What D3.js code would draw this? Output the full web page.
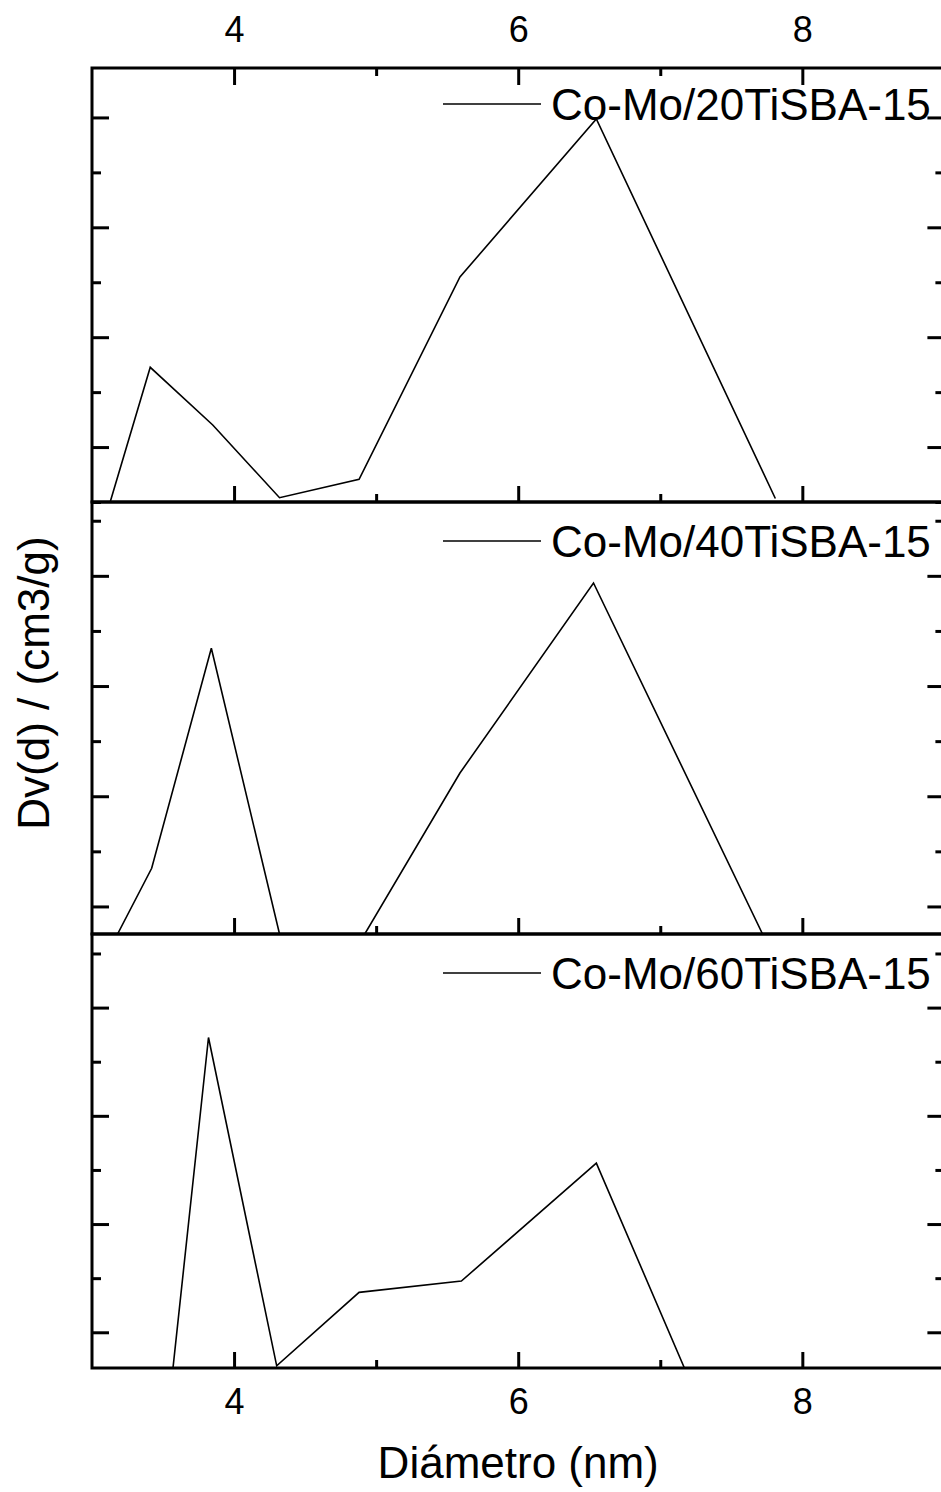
<!DOCTYPE html>
<html>
<head>
<meta charset="utf-8">
<script src="https://cdn.jsdelivr.net/npm/d3@7"></script>
<style>
  html, body { margin: 0; padding: 0; background: #fff; }
  svg { display: block; }
  text { font-family: "Liberation Sans", Arial, sans-serif; fill: #000; }
</style>
</head>
<body>
<svg id="chart" width="941" height="1492"></svg>
<script>
// Pore diameter (nm) and Dv(d) for each support
const diam20 = [3.13, 3.41, 3.85, 4.32, 4.88, 5.59, 6.55, 7.81];
const dv20   = [0.0001, 0.01226, 0.00701, 0.00039, 0.00207, 0.02048, 0.03486, 0.00032];

const diam40 = [3.18, 3.42, 3.84, 4.32, 4.92, 5.59, 6.53, 7.72];
const dv40   = [0, 0.00596, 0.02593, 0, 0, 0.01461, 0.03185, 0];

const diam60 = [3.57, 3.82, 4.30, 4.88, 5.60, 6.55, 7.17];
const dv60   = [0, 0.03054, 0.0002, 0.00699, 0.00803, 0.01893, 0];

const seriesNames = ["Co-Mo/20TiSBA-15", "Co-Mo/40TiSBA-15", "Co-Mo/60TiSBA-15"];

// Axis ticks
const xMajor = [4, 6, 8];
const xMinor = [5, 7];
const yMajor20 = [0.005, 0.015, 0.025, 0.035];
const yMinor20 = [0, 0.01, 0.02, 0.03];
const yMajor40 = [0.0025, 0.0125, 0.0225, 0.0325];
const yMinor40 = [0.0075, 0.0175, 0.0275, 0.0375];
const yMajor60 = [0.0033, 0.0133, 0.0233, 0.0333];
const yMinor60 = [0.0083, 0.0183, 0.0283, 0.0383];

const xDomain = [3, 9];
const yDomain20 = [0, 0.0395];
const yDomain40 = [0, 0.0392];
const yDomain60 = [0, 0.0401];

const svg = d3.select("#chart");
const left = 92, right = 944.4;
const x = d3.scaleLinear().domain(xDomain).range([left, right]);

const panels = [
  { top: 68,  bottom: 502,  diam: diam20, dv: dv20, dom: yDomain20, major: yMajor20, minor: yMinor20, name: seriesNames[0] },
  { top: 502, bottom: 934,  diam: diam40, dv: dv40, dom: yDomain40, major: yMajor40, minor: yMinor40, name: seriesNames[1] },
  { top: 934, bottom: 1368, diam: diam60, dv: dv60, dom: yDomain60, major: yMajor60, minor: yMinor60, name: seriesNames[2] }
];

const majorLen = 17, minorLen = 9;

function styleAxis(g) {
  g.select(".domain").remove();
  g.selectAll(".tick line").attr("stroke", "#000").attr("stroke-width", 3);
  g.selectAll(".tick text").attr("font-size", 36).attr("font-family", "Liberation Sans, Arial, sans-serif");
}

panels.forEach((p, i) => {
  const y = d3.scaleLinear().domain(p.dom).range([p.bottom, p.top]);

  const clipId = "clip" + i;
  svg.append("clipPath").attr("id", clipId)
    .append("rect")
    .attr("x", left).attr("y", p.top)
    .attr("width", right - left).attr("height", p.bottom - p.top);

  // data line
  const pts = p.diam.map((d, k) => [d, p.dv[k]]);
  svg.append("path")
    .datum(pts)
    .attr("clip-path", `url(#${clipId})`)
    .attr("fill", "none")
    .attr("stroke", "#000")
    .attr("stroke-width", 1.6)
    .attr("stroke-linejoin", "miter")
    .attr("d", d3.line().x(d => x(d[0])).y(d => y(d[1])));

  // left ticks (inward)
  svg.append("g").attr("transform", `translate(${left},0)`)
    .call(d3.axisLeft(y).tickValues(p.major).tickSizeInner(-majorLen).tickSizeOuter(0).tickFormat(""))
    .call(styleAxis);
  svg.append("g").attr("transform", `translate(${left},0)`)
    .call(d3.axisLeft(y).tickValues(p.minor).tickSizeInner(-minorLen).tickSizeOuter(0).tickFormat(""))
    .call(styleAxis);
  // right ticks (inward)
  svg.append("g").attr("transform", `translate(${right},0)`)
    .call(d3.axisRight(y).tickValues(p.major).tickSizeInner(-majorLen).tickSizeOuter(0).tickFormat(""))
    .call(styleAxis);
  svg.append("g").attr("transform", `translate(${right},0)`)
    .call(d3.axisRight(y).tickValues(p.minor).tickSizeInner(-minorLen).tickSizeOuter(0).tickFormat(""))
    .call(styleAxis);

  // bottom ticks of each panel (inward, upward)
  const isLast = i === panels.length - 1;
  svg.append("g").attr("transform", `translate(0,${p.bottom})`)
    .call(d3.axisBottom(x).tickValues(xMajor).tickSizeInner(-16).tickSizeOuter(0)
      .tickPadding(20).tickFormat(isLast ? d3.format("d") : ""))
    .call(styleAxis);
  svg.append("g").attr("transform", `translate(0,${p.bottom})`)
    .call(d3.axisBottom(x).tickValues(xMinor).tickSizeInner(-8).tickSizeOuter(0).tickFormat(""))
    .call(styleAxis);

  // top axis with labels on the first panel
  if (i === 0) {
    svg.append("g").attr("transform", `translate(0,${p.top})`)
      .call(d3.axisTop(x).tickValues(xMajor).tickSizeInner(-17).tickSizeOuter(0)
        .tickPadding(26).tickFormat(d3.format("d")))
      .call(styleAxis);
    svg.append("g").attr("transform", `translate(0,${p.top})`)
      .call(d3.axisTop(x).tickValues(xMinor).tickSizeInner(-8).tickSizeOuter(0).tickFormat(""))
      .call(styleAxis);
  }

  // frame
  svg.append("rect")
    .attr("x", left).attr("y", p.top)
    .attr("width", right - left).attr("height", p.bottom - p.top)
    .attr("fill", "none").attr("stroke", "#000").attr("stroke-width", 3);

  // legend
  const ly = p.top + 36 + (i === 0 ? 0 : 3);
  svg.append("line")
    .attr("x1", 443).attr("x2", 541).attr("y1", ly).attr("y2", ly)
    .attr("stroke", "#000").attr("stroke-width", 1.6);
  svg.append("text")
    .attr("x", 551).attr("y", ly + 16)
    .attr("font-size", 44)
    .text(p.name);
});

// axis titles
svg.append("text")
  .attr("x", (left + right) / 2).attr("y", 1478)
  .attr("text-anchor", "middle")
  .attr("font-size", 44)
  .text("Diámetro (nm)");

svg.append("text")
  .attr("transform", `translate(49,${683}) rotate(-90)`)
  .attr("text-anchor", "middle")
  .attr("font-size", 44)
  .text("Dv(d) / (cm3/g)");
</script>
</body>
</html>
